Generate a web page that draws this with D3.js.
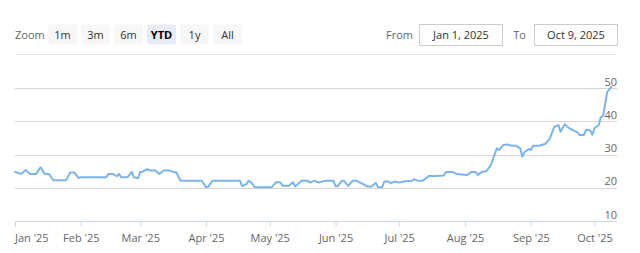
<!DOCTYPE html>
<html>
<head>
<meta charset="utf-8">
<script src="https://cdn.jsdelivr.net/npm/d3@7"></script>
<style>
  html, body { margin: 0; padding: 0; background: #fff; }
  svg { display: block; font-family: "Open Sans", sans-serif; }
</style>
</head>
<body>
<svg id="chart" width="640" height="253"></svg>
<script>
// ---- data ----
const dates = [
  "2025-01-01","2025-01-03","2025-01-04","2025-01-06","2025-01-08","2025-01-11","2025-01-13","2025-01-15","2025-01-17","2025-01-19",
  "2025-01-25","2025-01-27","2025-01-29","2025-01-31","2025-02-01","2025-02-13","2025-02-14","2025-02-16","2025-02-18","2025-02-19",
  "2025-02-20","2025-02-23","2025-02-25","2025-02-26","2025-02-28","2025-03-01","2025-03-02","2025-03-04","2025-03-06","2025-03-08",
  "2025-03-10","2025-03-12","2025-03-15","2025-03-17","2025-03-18","2025-03-20","2025-03-30","2025-04-01","2025-04-02","2025-04-04",
  "2025-04-17","2025-04-18","2025-04-20","2025-04-21","2025-04-22","2025-04-24","2025-05-02","2025-05-04","2025-05-06","2025-05-07",
  "2025-05-10","2025-05-12","2025-05-13","2025-05-16","2025-05-19","2025-05-20","2025-05-22","2025-05-24","2025-05-27","2025-05-31",
  "2025-06-01","2025-06-02","2025-06-04","2025-06-05","2025-06-07","2025-06-09","2025-06-11","2025-06-13","2025-06-14","2025-06-16",
  "2025-06-18","2025-06-20","2025-06-21","2025-06-23","2025-06-24","2025-06-26","2025-06-27","2025-06-29","2025-07-01","2025-07-04",
  "2025-07-07","2025-07-08","2025-07-10","2025-07-12","2025-07-15","2025-07-18","2025-07-22","2025-07-23","2025-07-26","2025-07-28",
  "2025-08-02","2025-08-04","2025-08-06","2025-08-07","2025-08-09","2025-08-11","2025-08-13","2025-08-16","2025-08-17","2025-08-19",
  "2025-08-21","2025-08-22","2025-08-25","2025-08-27","2025-08-28","2025-08-29","2025-08-31","2025-09-01","2025-09-02","2025-09-05",
  "2025-09-08","2025-09-10","2025-09-12","2025-09-14","2025-09-15","2025-09-17","2025-09-19","2025-09-21","2025-09-23","2025-09-24",
  "2025-09-26","2025-09-27","2025-09-29","2025-09-30","2025-10-01","2025-10-03","2025-10-04","2025-10-05","2025-10-07","2025-10-09"
];
const values = [
  24.8,24.4,24.2,25.4,24.2,24.2,26.2,24.2,24.2,22.3,
  22.3,24.6,24.6,22.9,23.2,23.2,24.2,24.2,23.5,24.2,
  23.2,23.2,24.8,23.2,22.9,24.8,24.8,25.6,25.2,25.2,
  24.2,25.2,25.2,24.7,24.7,22.1,22.1,20.2,20.3,22.1,
  22.1,20.5,21.1,22.1,21.8,20.2,20.2,21.7,21.7,20.6,
  20.6,21.7,20.4,22.1,22.1,21.6,22.1,21.6,22.1,22.1,
  20.5,20.5,22.1,22.1,20.6,22.1,22.1,21.4,21.1,20.4,
  20.4,21.5,20.2,20.2,21.9,21.9,21.4,21.9,21.6,22.0,
  22.1,22.6,22.1,22.1,23.6,23.6,23.7,24.8,24.8,24.2,
  23.9,24.8,24.8,23.9,24.8,25.0,26.6,31.9,31.4,32.9,
  33.1,32.8,32.7,31.9,29.4,30.7,31.7,31.4,32.7,32.7,
  33.3,34.9,38.4,38.9,36.9,39.2,38.0,37.3,36.7,35.9,
  35.9,37.5,37.3,36.0,38.0,38.9,41.4,41.6,48.9,50.4
];
const xTickDates = ["2025-01-01","2025-02-01","2025-03-01","2025-04-01","2025-05-01","2025-06-01",
                    "2025-07-01","2025-08-01","2025-09-01","2025-10-01"];
const yTicks = [10, 20, 30, 40, 50];
const zoomButtons = ["1m", "3m", "6m", "YTD", "1y", "All"];
const selectedButton = "YTD";
const rangeFrom = "Jan 1, 2025";
const rangeTo = "Oct 9, 2025";

// ---- drawing ----
const parse = d3.utcParse("%Y-%m-%d");
const series = dates.map((d, i) => ({ date: parse(d), v: values[i] }));

const svg = d3.select("#chart");
const plotLeft = 15, plotRight = 617, plotBottom = 221;

const x = d3.scaleUtc()
  .domain([parse("2025-01-01"), parse("2025-10-09")])
  .range([15, 611.5]);
const y = d3.scaleLinear().domain([10, 50]).range([plotBottom, 88.3]);

// range selector
const sel = svg.append("g");
sel.append("text").attr("x", 15).attr("y", 39).attr("fill", "#666")
  .attr("font-size", 11).text("Zoom");
const btn = sel.selectAll("g.btn").data(zoomButtons).join("g")
  .attr("transform", (d, i) => `translate(${48 + i * 33},24.5)`);
btn.append("rect").attr("width", 29).attr("height", 20).attr("rx", 2)
  .attr("fill", d => d === selectedButton ? "#e6ebf5" : "#f7f7f7");
btn.append("text").attr("x", 14.5).attr("y", 14.5).attr("text-anchor", "middle")
  .attr("font-size", 11)
  .attr("font-weight", d => d === selectedButton ? "bold" : "normal")
  .attr("fill", d => d === selectedButton ? "#000" : "#333")
  .text(d => d);

sel.append("text").attr("x", 413).attr("y", 39).attr("text-anchor", "end")
  .attr("fill", "#666").attr("font-size", 11).text("From");
sel.append("rect").attr("x", 419.5).attr("y", 24.5).attr("width", 83).attr("height", 21)
  .attr("fill", "#fff").attr("stroke", "#ccc");
sel.append("text").attr("x", 461).attr("y", 39).attr("text-anchor", "middle")
  .attr("fill", "#333").attr("font-size", 11).text(rangeFrom);
sel.append("text").attr("x", 526).attr("y", 39).attr("text-anchor", "end")
  .attr("fill", "#666").attr("font-size", 11).text("To");
sel.append("rect").attr("x", 534.5).attr("y", 24.5).attr("width", 83).attr("height", 21)
  .attr("fill", "#fff").attr("stroke", "#ccc");
sel.append("text").attr("x", 576).attr("y", 39).attr("text-anchor", "middle")
  .attr("fill", "#333").attr("font-size", 11).text(rangeTo);

// separator under the selector
svg.append("line").attr("x1", plotLeft).attr("x2", plotRight).attr("y1", 54.5).attr("y2", 54.5)
  .attr("stroke", "#e6e6e6");

// gridlines
svg.append("g").selectAll("line").data(yTicks).join("line")
  .attr("x1", plotLeft).attr("x2", plotRight)
  .attr("y1", d => Math.round(y(d)) + 0.5).attr("y2", d => Math.round(y(d)) + 0.5)
  .attr("stroke", "#d6d6d6");

// x axis
const xAxis = d3.axisBottom(x)
  .tickValues(xTickDates.map(parse))
  .tickFormat(d3.utcFormat("%b '%y"))
  .tickSize(5).tickSizeOuter(0).tickPadding(8);
const gx = svg.append("g").attr("transform", `translate(0,${plotBottom + 0.5})`).call(xAxis);
gx.select(".domain").remove();
gx.selectAll(".tick line").attr("stroke", "#ccd6eb");
gx.selectAll(".tick text").attr("fill", "#666").attr("font-size", 11)
  .attr("font-family", "'Open Sans', sans-serif");
gx.selectAll(".tick text").each(function () {
  const t = d3.select(this);
  const b = this.getBBox();
  const tr = this.parentNode.transform.baseVal.consolidate().matrix.e;
  if (tr + b.x < plotLeft) t.attr("text-anchor", "start").attr("x", plotLeft - tr);
});
svg.append("line").attr("x1", plotLeft).attr("x2", plotRight)
  .attr("y1", plotBottom + 0.5).attr("y2", plotBottom + 0.5).attr("stroke", "#ccd6eb");

// line series
const line = d3.line().x(d => x(d.date)).y(d => y(d.v));
svg.append("path").datum(series).attr("d", line)
  .attr("fill", "none").attr("stroke", "#7cb5ec").attr("stroke-width", 2)
  .attr("stroke-linejoin", "round").attr("stroke-linecap", "round");

// y labels (right, above gridlines)
svg.append("g").selectAll("text").data(yTicks).join("text")
  .attr("x", plotRight).attr("y", d => y(d) - 2.5)
  .attr("text-anchor", "end").attr("fill", "#666").attr("font-size", 11)
  .text(d => d);
</script>
</body>
</html>
